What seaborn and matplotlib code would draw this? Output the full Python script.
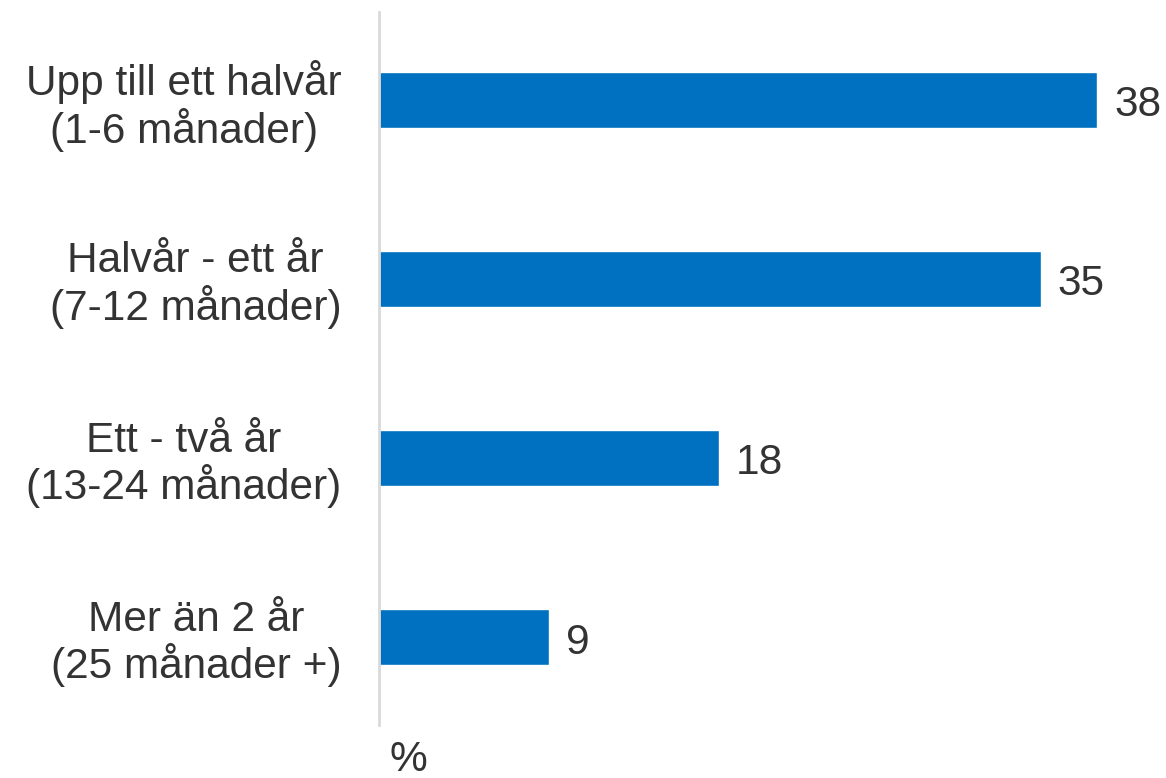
import matplotlib
matplotlib.use("Agg")
import matplotlib.pyplot as plt
import seaborn as sns
import pandas as pd

categories = ["Upp till ett halvår\n(1-6 månader)",
              "Halvår - ett år\n(7-12 månader)",
              "Ett - två år\n(13-24 månader)",
              "Mer än 2 år\n(25 månader +)"]
values = [38, 35, 18, 9]
unit_label = "%"

sns.set_theme(style="white")
plt.rcParams['font.family'] = ['Liberation Sans', 'DejaVu Sans']
text_color = "#333333"
bar_color = "#0070C0"
fs = 30.5

df = pd.DataFrame({"cat": categories, "val": values})

fig = plt.figure(figsize=(11.66, 7.78), dpi=100)
W, H = 1166, 778
left_px, right_px = 379, 379 + 41 * 18.9
top_px, bottom_px = 12, 725
ax = fig.add_axes([left_px / W, 1 - bottom_px / H, (right_px - left_px) / W, (bottom_px - top_px) / H])

sns.barplot(data=df, x="val", y="cat", orient="h", color=bar_color, width=0.31,
            saturation=1, ax=ax)

ax.set_xlim(0, 41)
ax.set_ylim(3.49, -0.49)
ax.set_xlabel("")
ax.set_ylabel("")
ax.set_xticks([])
for s in ["top", "right", "bottom"]:
    ax.spines[s].set_visible(False)
ax.spines["left"].set_color("#D9D9D9")
ax.spines["left"].set_linewidth(2)
ax.tick_params(axis="y", length=0, pad=27, labelsize=fs, labelcolor=text_color)
for lbl in ax.get_yticklabels():
    lbl.set_multialignment("center")
    lbl.set_linespacing(1.1)

for i, v in enumerate(values):
    ax.text(v + 0.9, i + 0.03, str(v), va="center", ha="left", fontsize=fs, color=text_color)

fig.text(408 / W, 1 - 760 / H, unit_label, ha="center", va="center", fontsize=fs, color=text_color)

fig.savefig("out.png", dpi=100)
